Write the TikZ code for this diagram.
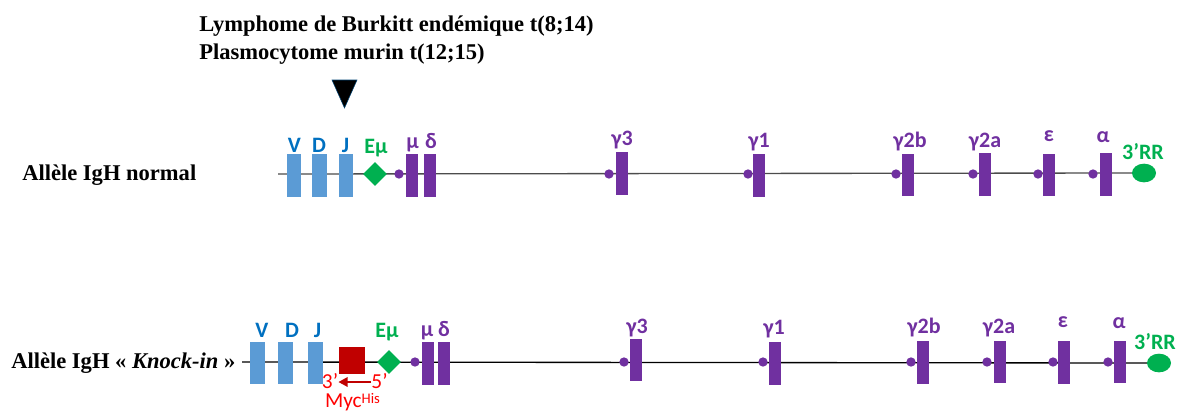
\documentclass[tikz,border=0pt]{standalone}
\usepackage{fontspec}
\setmainfont{Liberation Serif}
\newfontfamily\genefont{Carlito}
\usepackage{tikz}
\usetikzlibrary{shapes.geometric,arrows.meta}

\definecolor{vblue}{HTML}{5B9BD5}
\definecolor{vtext}{HTML}{0070C0}
\definecolor{cpurple}{HTML}{7030A0}
\definecolor{egreen}{HTML}{00B050}
\definecolor{mycred}{HTML}{C00000}
\definecolor{txtred}{HTML}{FF0000}

\begin{document}
\begin{tikzpicture}[x=0.75pt, y=-0.75pt,
    vseg/.style={rectangle, fill=vblue, minimum width=11pt, minimum height=32pt, inner sep=0pt},
    cseg/.style={rectangle, fill=cpurple, minimum width=9pt, minimum height=32pt, inner sep=0pt},
    sdot/.style={circle, fill=cpurple, minimum size=7pt, inner sep=0pt},
    enh/.style={diamond, fill=egreen, minimum width=18pt, minimum height=18pt, inner sep=0pt},
    rr/.style={ellipse, fill=egreen, minimum width=18pt, minimum height=14pt, inner sep=0pt},
    lab/.style={font=\genefont\bfseries\fontsize{16.5}{18}\selectfont, anchor=base, inner sep=0pt},
    vlab/.style={lab, text=vtext},
    clab/.style={lab, text=cpurple},
    elab/.style={lab, text=egreen},
    redlab/.style={font=\genefont\fontsize{16}{17}\selectfont, text=txtred, anchor=base, inner sep=0pt},
    allele/.style={font=\bfseries\fontsize{16.9}{20}\selectfont, anchor=base west, inner sep=0pt},
    chrom/.style={line width=1pt}
]
\useasboundingbox (0,0) rectangle (1180,411);

% translocation
\node[allele] (t1) at (199,31) {Lymphome de Burkitt endémique t(8;14)};
\node[allele] (t2) at (199,59) {Plasmocytome murin t(12;15)};
\fill[draw=vtext!60!black, line width=0.4pt] (332,80) -- (357,80) -- (344.5,108) -- cycle;

% normal allele
\node[allele] (n) at (22,180) {Allèle IgH normal};
\coordinate (ns) at (278,174);
\node[rr] (nrr) at (1144,173) {};
\draw[chrom, black!70] (ns) -- (nrr.west);
\node[vseg] (nv) at (294,175.5) {};
\node[vseg] (nd) at (319.5,175.5) {};
\node[vseg] (nj) at (346,175.5) {};
\node[enh] (ne) at (375,174) {};
\node[sdot] at (399,174) {};
\node[cseg] (nmu) at (412,175.5) {};
\node[cseg] (ndelta) at (430,175.5) {};
\node[sdot] at (609,174) {};
\node[cseg] (ng3) at (622,173.5) {};
\node[sdot] at (748,174) {};
\node[cseg] (ng1) at (759,175.5) {};
\node[sdot] at (896,174) {};
\node[cseg] (ng2b) at (908,175) {};
\node[sdot] at (973,174) {};
\node[cseg] (ng2a) at (984.5,174.5) {};
\node[sdot] at (1038,174) {};
\node[cseg] (neps) at (1048.5,175) {};
\node[sdot] at (1093,174) {};
\node[cseg] (nalpha) at (1106,174.5) {};
\node[vlab] at (294.5,152) {V};
\node[vlab] at (319,152) {D};
\node[vlab] at (345.5,152) {J};
\node[elab] at (376,153) {Eμ};
\node[clab] at (412.5,148) {μ};
\node[clab] at (431,148) {δ};
\node[clab] at (622,145) {γ3};
\node[clab] at (759,147) {γ1};
\node[clab] at (910,147) {γ2b};
\node[clab] at (985,147) {γ2a};
\node[clab] at (1049,141) {ε};
\node[clab] at (1103,142) {α};
\node[elab] at (1143,159) {3’RR};

% knock-in allele
\node[allele] (k) at (11,368) {Allèle IgH « \textit{Knock-in} »};
\coordinate (ks) at (242,362);
\node[rr] (krr) at (1159,363) {};
\draw[chrom, black] (ks) -- (krr.west);
\node[vseg] (kv) at (257.5,363) {};
\node[vseg] (kd) at (285.5,363) {};
\node[vseg] (kj) at (315.5,363) {};
\node[rectangle, fill=mycred, minimum width=19.5pt, minimum height=20pt, inner sep=0pt] (myc) at (352,360.5) {};
\node[enh] (ke) at (389,362) {};
\node[sdot] at (415,362) {};
\node[cseg] (kmu) at (427.5,363.5) {};
\node[cseg] (kdelta) at (444,363.5) {};
\node[sdot] at (624,362) {};
\node[cseg] (kg3) at (636,360) {};
\node[sdot] at (763,362) {};
\node[cseg] (kg1) at (774.5,363.5) {};
\node[sdot] at (911,362) {};
\node[cseg] (kg2b) at (923,362.5) {};
\node[sdot] at (987,362) {};
\node[cseg] (kg2a) at (999.5,362) {};
\node[sdot] at (1053,362) {};
\node[cseg] (keps) at (1063.5,362.5) {};
\node[sdot] at (1108,362) {};
\node[cseg] (kalpha) at (1120,362) {};
\node[vlab] at (262,337) {V};
\node[vlab] at (292,337) {D};
\node[vlab] at (317.5,337) {J};
\node[elab] at (387,337) {Eμ};
\node[clab] at (427,336) {μ};
\node[clab] at (444,336) {δ};
\node[clab] at (637,333) {γ3};
\node[clab] at (774,334) {γ1};
\node[clab] at (924,333) {γ2b};
\node[clab] at (999,333) {γ2a};
\node[clab] at (1063,327) {ε};
\node[clab] at (1119,328) {α};
\node[elab] at (1155,349) {3’RR};

\node[redlab] (p3) at (330,388) {3’};
\node[redlab] (p5) at (379.5,388) {5’};
\draw[mycred, line width=1.8pt, -{Triangle[length=7pt,width=7pt]}] (p5.west |- 0,382) -- (p3.east |- 0,382);
\node[redlab] (mycname) at (352.5,407.5) {Myc\raisebox{3pt}{\fontsize{11}{12}\selectfont His}};
\end{tikzpicture}
\end{document}
